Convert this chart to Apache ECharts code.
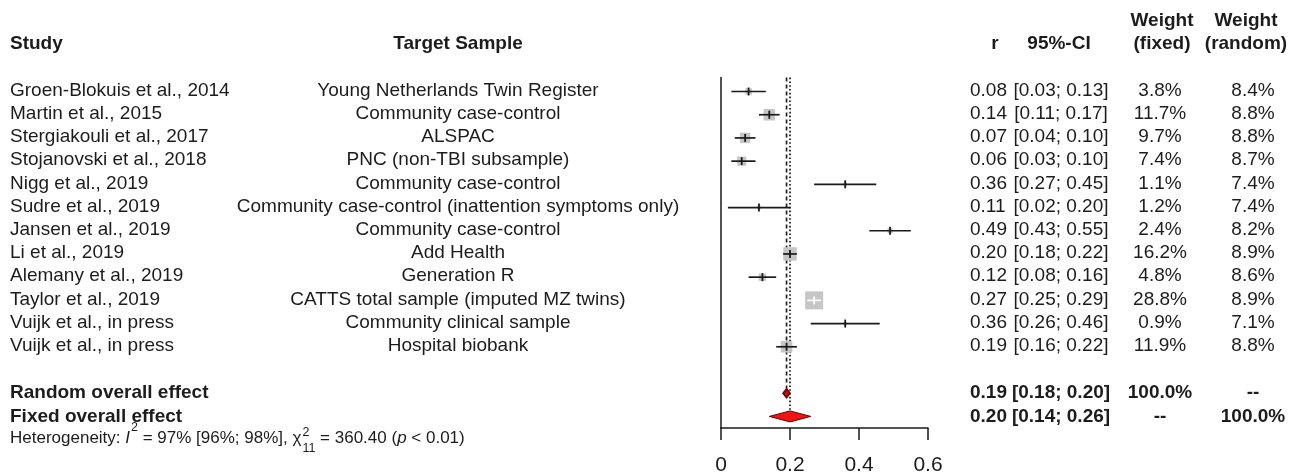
<!DOCTYPE html>
<html>
<head>
<meta charset="utf-8">
<script src="https://cdn.jsdelivr.net/npm/echarts@6/dist/echarts.min.js"></script>
<style>
html,body{margin:0;padding:0;background:#fff;}
#chart{width:1289px;height:476px;}
</style>
</head>
<body>
<div id="chart"></div>
<script>
// ---------------- data ----------------
const studies = [
  'Groen-Blokuis et al., 2014','Martin et al., 2015','Stergiakouli et al., 2017','Stojanovski et al., 2018',
  'Nigg et al., 2019','Sudre et al., 2019','Jansen et al., 2019','Li et al., 2019','Alemany et al., 2019',
  'Taylor et al., 2019','Vuijk et al., in press','Vuijk et al., in press'
];
const samples = [
  'Young Netherlands Twin Register','Community case-control','ALSPAC','PNC (non-TBI subsample)',
  'Community case-control','Community case-control (inattention symptoms only)','Community case-control',
  'Add Health','Generation R','CATTS total sample (imputed MZ twins)','Community clinical sample','Hospital biobank'
];
const rVals   = [0.08, 0.14, 0.07, 0.06, 0.36, 0.11, 0.49, 0.20, 0.12, 0.27, 0.36, 0.19];
const ciLow   = [0.03, 0.11, 0.04, 0.03, 0.27, 0.02, 0.43, 0.18, 0.08, 0.25, 0.26, 0.16];
const ciHigh  = [0.13, 0.17, 0.10, 0.10, 0.45, 0.20, 0.55, 0.22, 0.16, 0.29, 0.46, 0.22];
const wFixed  = [3.8, 11.7, 9.7, 7.4, 1.1, 1.2, 2.4, 16.2, 4.8, 28.8, 0.9, 11.9];
const wRandom = [8.4, 8.8, 8.8, 8.7, 7.4, 7.4, 8.2, 8.9, 8.6, 8.9, 7.1, 8.8];

const pooledLabels  = ['Random overall effect', 'Fixed overall effect'];
const pooledR       = [0.19, 0.20];
const pooledLow     = [0.18, 0.14];
const pooledHigh    = [0.20, 0.26];
const pooledWFixed  = ['100.0%', '--'];
const pooledWRandom = ['--', '100.0%'];

const xTicks = [0, 0.2, 0.4, 0.6];
const headers = { study: 'Study', sample: 'Target Sample', r: 'r', ci: '95%-CI',
                  wf1: 'Weight', wf2: '(fixed)', wr1: 'Weight', wr2: '(random)' };

// ---------------- layout ----------------
const FONT = '"Liberation Sans", Arial, sans-serif';
const TXT = '#1c1c1c';
const SQ_K = 3.35;
const nStudies = studies.length;
const pooledRows = [nStudies + 1, nStudies + 2];
const DIAMOND_H = [4.5, 5.5];

const chart = echarts.init(document.getElementById('chart'), null, {renderer: 'canvas'});

const studyData = rVals.map((r, i) => [i, r, ciLow[i], ciHigh[i], wFixed[i]]);
const pooledData = pooledR.map((r, i) => [pooledRows[i], r, pooledLow[i], pooledHigh[i], i]);
const refData = pooledR.map((r, i) => [r, pooledRows[i], i]);

chart.setOption({
  animation: false,
  backgroundColor: '#fff',
  grid: { left: 721, right: 361, top: 77.6, bottom: 44.8 },
  xAxis: {
    type: 'value', min: xTicks[0], max: xTicks[xTicks.length - 1], interval: 0.2,
    axisLine: { show: true, onZero: false, lineStyle: { color: '#1a1a1a', width: 1.5 } },
    axisTick: { show: true, length: 12, lineStyle: { color: '#1a1a1a', width: 1.5 } },
    axisLabel: { fontSize: 21, fontFamily: FONT, color: TXT, margin: 27,
                 formatter: v => String(+v.toFixed(1)) },
    splitLine: { show: false }
  },
  yAxis: {
    type: 'value', inverse: true, min: -0.6, max: nStudies + 2.5,
    axisLine: { show: true, onZero: false, lineStyle: { color: '#1a1a1a', width: 1.5 } },
    axisTick: { show: false }, axisLabel: { show: false }, splitLine: { show: false }
  },
  series: [
    {
      type: 'custom', name: 'ref', data: refData, clip: false, z: 1,
      renderItem: (params, api) => {
        const x = api.value(0), row = api.value(1), idx = api.value(2);
        const top = api.coord([x, -0.6]);
        const bot = api.coord([x, row]);
        return { type: 'line',
          shape: { x1: top[0], y1: top[1], x2: bot[0], y2: bot[1] - DIAMOND_H[idx] },
          style: { stroke: '#222', lineWidth: idx === 0 ? 1.7 : 1.8,
                   lineDash: idx === 0 ? [4, 3] : [1.6, 2.2] } };
      }
    },
    {
      type: 'custom', name: 'studies', data: studyData, clip: false, z: 2,
      renderItem: (params, api) => {
        const row = api.value(0), r = api.value(1), lo = api.value(2), hi = api.value(3), w = api.value(4);
        const c = api.coord([r, row]), pl = api.coord([lo, row]), ph = api.coord([hi, row]);
        const side = SQ_K * Math.sqrt(w);
        const inside = (c[0] - pl[0] < side / 2) && (ph[0] - c[0] < side / 2);
        const col = inside ? '#ffffff' : '#1a1a1a';
        return { type: 'group', children: [
          { type: 'rect', shape: { x: c[0] - side / 2, y: c[1] - side / 2, width: side, height: side },
            style: { fill: '#c6c6c6' } },
          { type: 'line', shape: { x1: pl[0], y1: c[1], x2: ph[0], y2: c[1] },
            style: { stroke: col, lineWidth: 1.7 } },
          { type: 'line', shape: { x1: c[0], y1: c[1] - 4, x2: c[0], y2: c[1] + 4 },
            style: { stroke: col, lineWidth: 1.8 } }
        ]};
      }
    },
    {
      type: 'custom', name: 'pooled', data: pooledData, clip: false, z: 3,
      renderItem: (params, api) => {
        const row = api.value(0), r = api.value(1), lo = api.value(2), hi = api.value(3), idx = api.value(4);
        const c = api.coord([r, row]), pl = api.coord([lo, row]), ph = api.coord([hi, row]);
        const h = DIAMOND_H[idx];
        return { type: 'polygon',
          shape: { points: [[pl[0], c[1]], [c[0], c[1] - h], [ph[0], c[1]], [c[0], c[1] + h]] },
          style: { fill: idx === 0 ? '#c81010' : '#f01414', stroke: '#6a0000', lineWidth: idx === 0 ? 1.6 : 1 } };
      }
    }
  ]
});

// ---------------- text columns ----------------
const rowY = row => chart.convertToPixel({ yAxisIndex: 0 }, row) - 1;
const fontOf = (size, bold, italic) => (italic ? 'italic ' : '') + (bold ? 'bold ' : '') + size + 'px ' + FONT;
const txt = (s, x, y, align, size, bold, italic) => ({
  type: 'text', x: x, y: y, silent: true,
  style: { text: s, font: fontOf(size, bold, italic), fill: TXT, textAlign: align, textVerticalAlign: 'middle' }
});

const COL = { study: 10, sample: 458, r: 970, rHead: 995, ci: 1061, ciHead: 1059,
              wf: 1160, wfHead: 1162, wr: 1253, wrHead: 1246 };
const FS = 19;
const g = [];

// headers
const h1 = rowY(-3), h2 = rowY(-2);
g.push(txt(headers.study, COL.study, h2, 'left', FS, true));
g.push(txt(headers.sample, COL.sample, h2, 'center', FS, true));
g.push(txt(headers.r, COL.rHead, h2, 'center', FS, true));
g.push(txt(headers.ci, COL.ciHead, h2, 'center', FS, true));
g.push(txt(headers.wf1, COL.wfHead, h1, 'center', FS, true));
g.push(txt(headers.wf2, COL.wfHead, h2, 'center', FS, true));
g.push(txt(headers.wr1, COL.wrHead, h1, 'center', FS, true));
g.push(txt(headers.wr2, COL.wrHead, h2, 'center', FS, true));

// study rows
studies.forEach((s, i) => {
  const y = rowY(i);
  g.push(txt(s, COL.study, y, 'left', FS, false));
  g.push(txt(samples[i], COL.sample, y, 'center', FS, false));
  g.push(txt(rVals[i].toFixed(2), COL.r, y, 'left', FS, false));
  g.push(txt('[' + ciLow[i].toFixed(2) + '; ' + ciHigh[i].toFixed(2) + ']', COL.ci, y, 'center', FS, false));
  g.push(txt(wFixed[i].toFixed(1) + '%', COL.wf, y, 'center', FS, false));
  g.push(txt(wRandom[i].toFixed(1) + '%', COL.wr, y, 'center', FS, false));
});

// pooled rows
pooledLabels.forEach((s, i) => {
  const y = rowY(pooledRows[i]) + 1;
  g.push(txt(s, COL.study, y, 'left', FS, true));
  g.push(txt(pooledR[i].toFixed(2), COL.r, y, 'left', FS, true));
  g.push(txt('[' + pooledLow[i].toFixed(2) + '; ' + pooledHigh[i].toFixed(2) + ']', COL.ci, y, 'center', FS, true));
  g.push(txt(pooledWFixed[i], COL.wf, y, 'center', FS, true));
  g.push(txt(pooledWRandom[i], COL.wr, y, 'center', FS, true));
});

// heterogeneity line
const ctx = document.createElement('canvas').getContext('2d');
const measure = (s, font) => { ctx.font = font; return ctx.measureText(s).width; };
const HS = 17, SS = 12.5;
const hy = rowY(nStudies + 3);
let hx = COL.study;
const pieces = [
  { t: 'Heterogeneity: ' },
  { t: 'I', it: true },
  { t: '2', sup: 11 },
  { t: ' = 97% [96%; 98%], ' },
  { t: '\u03C7' },
  { stack: ['2', '11'] },
  { t: ' = 360.40 (' },
  { t: 'p', it: true },
  { t: ' < 0.01)' }
];
pieces.forEach(p => {
  if (p.stack) {
    const f = fontOf(SS, false, false);
    g.push(txt(p.stack[0], hx + 1, hy - 6, 'left', SS, false));
    g.push(txt(p.stack[1], hx + 1, hy + 10, 'left', SS, false));
    hx += 1 + Math.max(measure(p.stack[0], f), measure(p.stack[1], f));
  } else if (p.sup) {
    const f = fontOf(SS, false, false);
    g.push(txt(p.t, hx + 1, hy - p.sup, 'left', SS, false));
    hx += 1 + measure(p.t, f);
  } else {
    const f = fontOf(HS, false, !!p.it);
    g.push(txt(p.t, hx, hy, 'left', HS, false, !!p.it));
    hx += measure(p.t, f);
  }
});

chart.setOption({ graphic: { elements: g } });
</script>
</body>
</html>
